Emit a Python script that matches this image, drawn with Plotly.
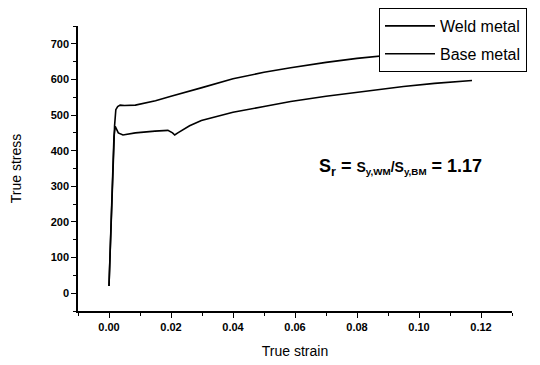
import plotly.graph_objects as go

weld_strain = [0, 0.0006, 0.0012, 0.0018, 0.0022, 0.0028, 0.0036, 0.0050, 0.0085, 0.0120,
               0.0150, 0.0200, 0.0266, 0.0300, 0.0400, 0.0500, 0.0586, 0.0700, 0.0800,
               0.0874, 0.0950, 0.1050]
weld_stress = [20, 180, 350, 470, 515, 524, 528, 527, 528, 534,
               540, 553, 568, 577, 602, 620, 633, 648, 659,
               666, 672, 679]

base_strain = [0, 0.0006, 0.0012, 0.0016, 0.0020, 0.0030, 0.0045, 0.0085, 0.0148, 0.0190,
               0.0205, 0.0212, 0.0222, 0.0234, 0.0260, 0.0298, 0.0400, 0.0500, 0.0586,
               0.0700, 0.0842, 0.0950, 0.1050, 0.1171]
base_stress = [20, 180, 350, 440, 468, 450, 444, 450, 455, 457,
               450, 444, 450, 457, 470, 485, 508, 524, 538,
               553, 569, 580, 589, 597]

x_ticks = [0.00, 0.02, 0.04, 0.06, 0.08, 0.10, 0.12]
x_ticklabels = ["0.00", "0.02", "0.04", "0.06", "0.08", "0.10", "0.12"]
y_ticks = [0, 100, 200, 300, 400, 500, 600, 700]

FONT = "Liberation Sans, Arial, sans-serif"

# page body has an 8px margin; figure sized to fill the rest of the 540x365 window
W, H = 532, 357

fig = go.Figure()
fig.add_trace(go.Scatter(x=weld_strain, y=weld_stress, mode="lines", name="Weld metal",
                         legendgroup="w", line=dict(color="black", width=1.6)))
fig.add_trace(go.Scatter(x=base_strain, y=base_stress, mode="lines", name="Base metal",
                         legendgroup="b", line=dict(color="black", width=1.6)))

fig.update_layout(
    width=W, height=H,
    margin=dict(l=70, r=28, t=18, b=54, autoexpand=False),
    paper_bgcolor="white", plot_bgcolor="white",
    font=dict(family=FONT, color="black"),
    showlegend=True,
    legend=dict(x=(379 - 8) / W, y=1.0, xref="container", yref="container",
                xanchor="left", yanchor="top",
                bgcolor="white", bordercolor="black", borderwidth=1,
                font=dict(size=16, family=FONT, color="black"),
                itemwidth=50,
                traceorder="grouped", tracegroupgap=4),
    xaxis=dict(range=[-0.01, 0.13], tickvals=x_ticks, ticktext=x_ticklabels, automargin=False,
               showgrid=False, zeroline=False, showline=True, linecolor="black", linewidth=1.5,
               ticks="outside", ticklen=5, tickwidth=1.3, tickcolor="black",
               minor=dict(dtick=0.01, ticks="outside", ticklen=3, tickwidth=1, tickcolor="black"),
               tickfont=dict(size=11, family=FONT, weight="bold"),
               title=dict(text="True strain", font=dict(size=14, family=FONT), standoff=14)),
    yaxis=dict(range=[-50, 750], tickvals=y_ticks, automargin=False,
               showgrid=False, zeroline=False, showline=True, linecolor="black", linewidth=1.5,
               ticks="outside", ticklen=5, tickwidth=1.3, tickcolor="black",
               minor=dict(dtick=50, ticks="outside", ticklen=3, tickwidth=1, tickcolor="black"),
               tickfont=dict(size=11, family=FONT, weight="bold"),
               title=dict(text="True stress", font=dict(size=14, family=FONT), standoff=26)),
    annotations=[dict(
        x=0.094, y=352, xref="x", yref="y", showarrow=False,
        text="<b>S<sub>r</sub> = <span style='font-size:14px'>S<sub>y,WM</sub>/S<sub>y,BM</sub></span> = 1.17</b>",
        font=dict(size=18, family=FONT, color="black"),
    )],
)

fig.write_html("out.html")
